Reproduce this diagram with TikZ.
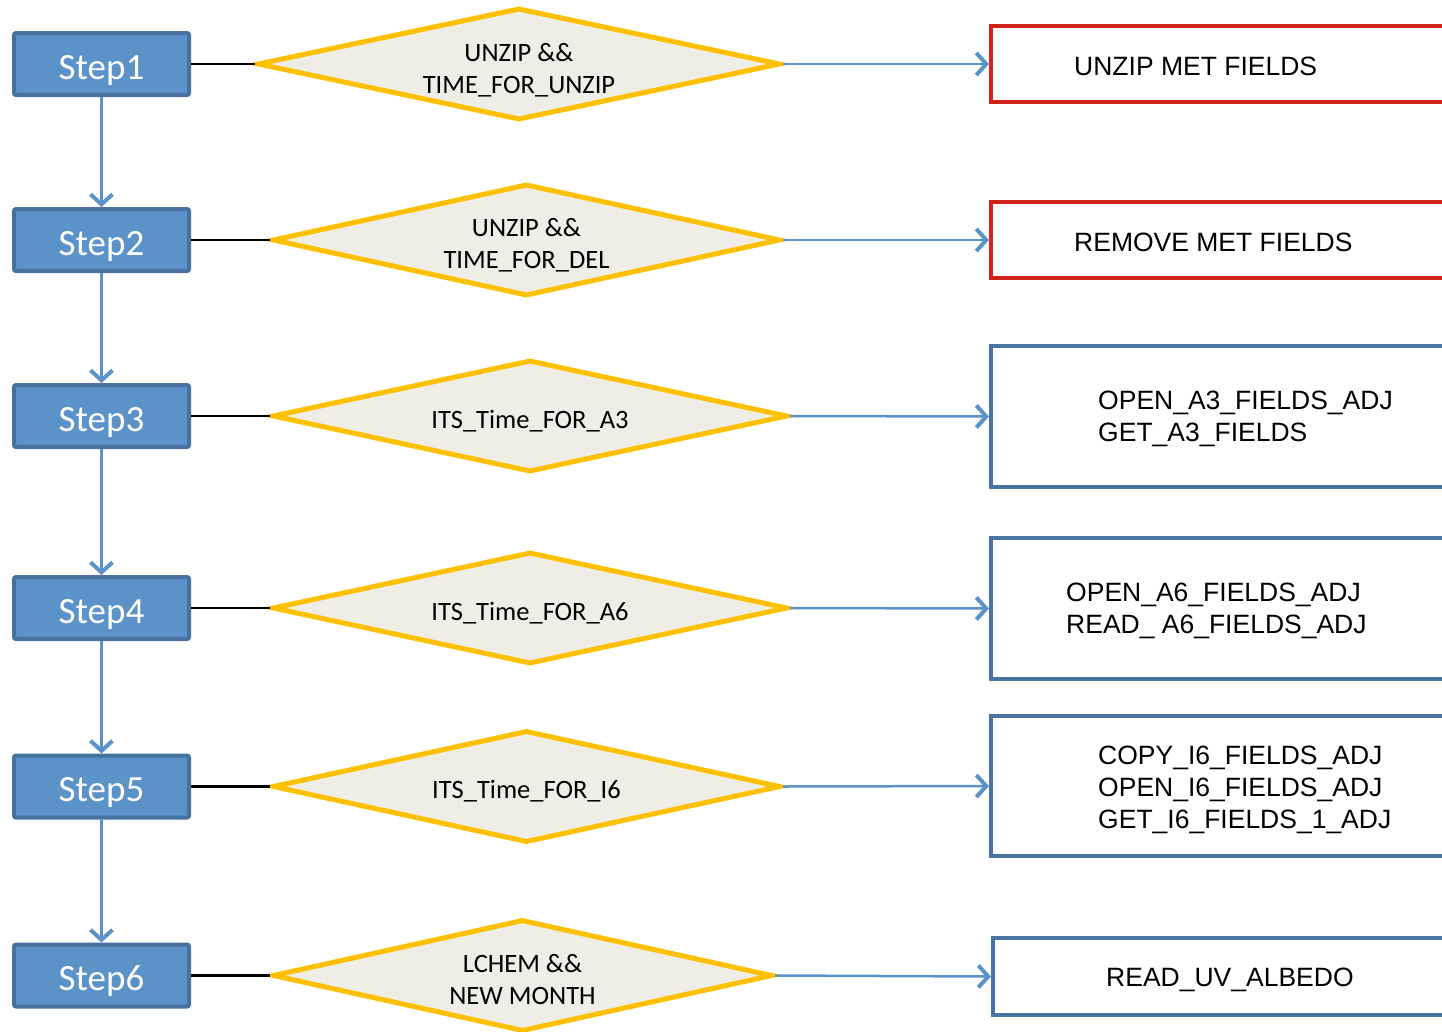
\documentclass[tikz,border=0pt]{standalone}
\usepackage{fontspec}
\setmainfont{Carlito}
\newfontfamily\arialfont{Liberation Sans}
\usetikzlibrary{shapes.geometric,arrows.meta}

\definecolor{stepfill}{HTML}{5B93C9}
\definecolor{stepline}{HTML}{45729F}
\definecolor{flowblue}{HTML}{5B93C9}
\definecolor{condline}{HTML}{FFC000}
\definecolor{condfill}{HTML}{EEEEE6}
\definecolor{actred}{HTML}{D0241A}
\definecolor{actblue}{HTML}{4A74A2}

\tikzset{
  stepbox/.style={rectangle, rounded corners=2pt, draw=stepline, fill=stepfill,
    line width=4pt, minimum width=175pt, minimum height=62pt, inner sep=0pt,
    text=white, font=\fontsize{37}{44}\selectfont,
    text height=30pt, text depth=0pt},
  cond/.style={diamond, draw=condline, fill=condfill, line width=5pt,
    shape aspect=4.7, minimum height=112pt, inner sep=0pt},
  condtext/.style={anchor=north, align=center, inner sep=0pt,
    font=\fontsize{26.5}{32}\selectfont},
  actbox/.style={rectangle, line width=4pt, minimum width=520pt,
    anchor=west, inner sep=0pt},
  acttext/.style={anchor=west, align=left, inner sep=0pt,
    font=\arialfont\fontsize{26.5}{32}\selectfont},
  link/.style={draw=black, line width=2.5pt},
  flow/.style={draw=flowblue, line width=2.5pt,
    -{Straight Barb[length=10pt,width=22pt,line width=4pt]}}
}

\begin{document}
\begin{tikzpicture}[x=1pt,y=-1pt]
\useasboundingbox (0,0) rectangle (1442,1031);
\clip (0,0) rectangle (1442,1031);

% step column
\node[stepbox] (s1) at (101.5,64)  {Step1};
\node[stepbox] (s2) at (101.5,240) {Step2};
\node[stepbox] (s3) at (101.5,416) {Step3};
\node[stepbox] (s4) at (101.5,608) {Step4};
\node[stepbox] (s5) at (101.5,786.5) {Step5};
\node[stepbox] (s6) at (101.5,975.5) {Step6};

% conditions
\node[cond, minimum width=523pt] (d1) at (519,64)    {};
\node[cond, minimum width=508pt] (d2) at (526.5,240) {};
\node[cond, minimum width=515pt] (d3) at (530,416)   {};
\node[cond, minimum width=515pt] (d4) at (530,608)   {};
\node[cond, minimum width=508pt] (d5) at (526.5,786.5) {};
\node[cond, minimum width=500pt] (d6) at (522.5,975.5) {};

\node[condtext] (c1) at ([yshift=21pt]d1.center) {UNZIP \&\&\\TIME\_FOR\_UNZIP};
\node[condtext] (c2) at ([yshift=22pt]d2.center) {UNZIP \&\&\\TIME\_FOR\_DEL};
\node[condtext] (c3) at ([yshift=6pt]d3.center)  {ITS\_Time\_FOR\_A3};
\node[condtext] (c4) at ([yshift=6pt]d4.center)  {ITS\_Time\_FOR\_A6};
\node[condtext] (c5) at ([yshift=6pt]d5.center)  {ITS\_Time\_FOR\_I6};
\node[condtext] (c6) at ([yshift=21pt]d6.center) {LCHEM \&\&\\NEW MONTH};

% actions
\node[actbox, draw=actred,  minimum height=76pt]  (b1) at (989,64)    {};
\node[actbox, draw=actred,  minimum height=76pt]  (b2) at (989,240)   {};
\node[actbox, draw=actblue, minimum height=141pt] (b3) at (989,416.5) {};
\node[actbox, draw=actblue, minimum height=141pt] (b4) at (989,608.5) {};
\node[actbox, draw=actblue, minimum height=140pt] (b5) at (989,786)   {};
\node[actbox, draw=actblue, minimum height=77pt]  (b6) at (991,976.5) {};

\node[acttext] (t1) at (1074,66)  {UNZIP MET FIELDS};
\node[acttext] (t2) at (1074,242) {REMOVE MET FIELDS};
\node[acttext] (t3) at (1098,419) {OPEN\_A3\_FIELDS\_ADJ\\GET\_A3\_FIELDS};
\node[acttext] (t4) at (1066,611) {OPEN\_A6\_FIELDS\_ADJ\\READ\_ A6\_FIELDS\_ADJ};
\node[acttext] (t5) at (1098,790) {COPY\_I6\_FIELDS\_ADJ\\OPEN\_I6\_FIELDS\_ADJ\\GET\_I6\_FIELDS\_1\_ADJ};
\node[acttext] (t6) at (1106,980) {READ\_UV\_ALBEDO};

% step sequence
\foreach \a/\b in {s1/s2,s2/s3,s3/s4,s4/s5,s5/s6}
  \draw[flow] (\a.south) -- (\b.north);

% step to condition
\foreach \i in {1,...,6}
  \draw[link] (s\i.east) -- (d\i.west);

% condition to action
\foreach \i in {1,...,6}
  \draw[flow] (d\i.east) -- (b\i.west);
\end{tikzpicture}
\end{document}
